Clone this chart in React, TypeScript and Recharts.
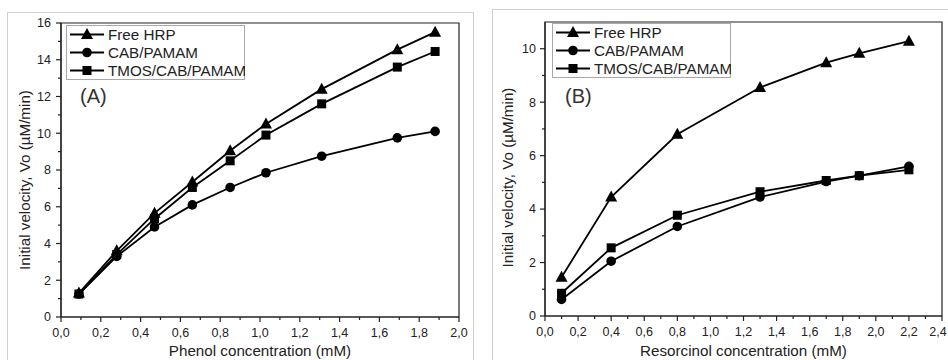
import { LineChart, Line, XAxis, YAxis, ReferenceArea, Legend } from 'recharts';

// Panel A: phenol
const phenolConc = [0.09, 0.28, 0.47, 0.66, 0.85, 1.03, 1.31, 1.69, 1.88];
const phenolFreeHrp = [1.3, 3.6, 5.65, 7.35, 9.05, 10.5, 12.4, 14.55, 15.5];
const phenolCab = [1.25, 3.3, 4.9, 6.1, 7.05, 7.85, 8.75, 9.75, 10.1];
const phenolTmos = [1.25, 3.4, 5.35, 7.05, 8.5, 9.9, 11.6, 13.6, 14.45];

// Panel B: resorcinol
const resorcinolConc = [0.1, 0.4, 0.8, 1.3, 1.7, 1.9, 2.2];
const resorcinolFreeHrp = [1.45, 4.45, 6.8, 8.55, 9.48, 9.83, 10.28];
const resorcinolCab = [0.62, 2.05, 3.35, 4.45, 5.03, 5.25, 5.6];
const resorcinolTmos = [0.85, 2.55, 3.77, 4.65, 5.07, 5.25, 5.47];

const seriesNames = ['Free HRP', 'CAB/PAMAM', 'TMOS/CAB/PAMAM'];

const phenolXTicks = [0, 0.1, 0.2, 0.3, 0.4, 0.5, 0.6, 0.7, 0.8, 0.9, 1.0, 1.1, 1.2, 1.3, 1.4, 1.5, 1.6, 1.7, 1.8, 1.9, 2.0];
const phenolYTicks = [0, 1, 2, 3, 4, 5, 6, 7, 8, 9, 10, 11, 12, 13, 14, 15, 16];
const resorcinolXTicks = [0, 0.1, 0.2, 0.3, 0.4, 0.5, 0.6, 0.7, 0.8, 0.9, 1.0, 1.1, 1.2, 1.3, 1.4, 1.5, 1.6, 1.7, 1.8, 1.9, 2.0, 2.1, 2.2, 2.3, 2.4];
const resorcinolYTicks = [0, 1, 2, 3, 4, 5, 6, 7, 8, 9, 10];

const FONT = '"Liberation Sans", Arial, sans-serif';
const AXIS = '#222';
const TEXT = '#222';

const toRows = (xs: number[], free: number[], cab: number[], tmos: number[]) =>
  xs.map((x, i) => ({ x, free: free[i], cab: cab[i], tmos: tmos[i] }));

const phenolData = toRows(phenolConc, phenolFreeHrp, phenolCab, phenolTmos);
const resorcinolData = toRows(resorcinolConc, resorcinolFreeHrp, resorcinolCab, resorcinolTmos);

function markerShape(kind: number, cx: number, cy: number, key?: string) {
  if (kind === 0) {
    return <polygon key={key} points={`${cx},${cy - 6.5} ${cx + 6},${cy + 4.5} ${cx - 6},${cy + 4.5}`} fill="#000" />;
  }
  if (kind === 1) {
    return <circle key={key} cx={cx} cy={cy} r={4.8} fill="#000" />;
  }
  return <rect key={key} x={cx - 4.5} y={cy - 4.5} width={9} height={9} fill="#000" />;
}

const dotFor = (kind: number) => (p: any) => markerShape(kind, p.cx, p.cy, `d-${kind}-${p.index}`);

function XTick(props: any) {
  const { x, y, payload, xMax } = props;
  const v: number = payload.value;
  const major = Math.round(v * 10) % 2 === 0;
  // the last label sits on the page edge; nudge it in so it stays readable
  const tx = v === xMax && xMax > 2 ? x - 4 : x;
  return (
    <g>
      <line x1={x} y1={y} x2={x} y2={y + (major ? 5 : 3)} stroke={AXIS} strokeWidth={1.2} />
      {major && (
        <text x={tx} y={y + 20} textAnchor="middle" fontSize={12.5} fill={TEXT} fontFamily={FONT}>
          {v.toFixed(1).replace('.', ',')}
        </text>
      )}
    </g>
  );
}

function YTick(props: any) {
  const { x, y, payload, gap } = props;
  const v: number = payload.value;
  const major = v % 2 === 0;
  return (
    <g>
      <line x1={x} y1={y} x2={x - (major ? 5 : 3)} y2={y} stroke={AXIS} strokeWidth={1.2} />
      {major && (
        <text x={x - gap} y={y + 4.4} textAnchor="end" fontSize={12.5} fill={TEXT} fontFamily={FONT}>
          {v}
        </text>
      )}
    </g>
  );
}

function LegendBox() {
  return (
    <svg width={179} height={55} style={{ display: 'block' }}>
      <rect x={0.5} y={0.5} width={178} height={54} fill="#fff" stroke="#a8a8a8" />
      {seriesNames.map((name, i) => {
        const cy = 9.5 + i * 18;
        return (
          <g key={name}>
            <line x1={4} y1={cy} x2={38} y2={cy} stroke="#000" strokeWidth={2} />
            {markerShape(i, 21, cy)}
            <text x={42} y={cy + 5.3} fontSize={15.2} fill={TEXT} fontFamily={FONT}>
              {name}
            </text>
          </g>
        );
      })}
    </svg>
  );
}

function yTitle(text: string, dx: number, dy: number) {
  return ({ viewBox }: any) => {
    const cx = viewBox.x + dx;
    const cy = viewBox.y + viewBox.height / 2 + dy;
    return (
      <text x={cx} y={cy} transform={`rotate(-90 ${cx} ${cy})`} textAnchor="middle" dominantBaseline="central"
        fontSize={15.2} fill={TEXT} fontFamily={FONT}>
        {text}
      </text>
    );
  };
}

function xTitle(text: string, baseline: number) {
  return ({ viewBox }: any) => (
    <text x={viewBox.x + viewBox.width / 2} y={baseline} textAnchor="middle" fontSize={15.2} fill={TEXT} fontFamily={FONT}>
      {text}
    </text>
  );
}

interface PanelProps {
  data: typeof phenolData;
  xMax: number;
  yMax: number;
  xTicks: number[];
  yTicks: number[];
  margin: { top: number; right: number; left: number; bottom: number };
  xLabel: string;
  yLabelDx: number;
  yLabelDy: number;
  yTickGap: number;
  legendPos: { left: number; top: number };
}

function Panel({ data, xMax, yMax, xTicks, yTicks, margin, xLabel, yLabelDx, yLabelDy, yTickGap, legendPos }: PanelProps) {
  return (
    <LineChart width={474} height={360} data={data} margin={margin}>
      <XAxis
        dataKey="x"
        type="number"
        domain={[0, xMax]}
        ticks={xTicks}
        interval={0}
        tickSize={0}
        tickMargin={0}
        tickLine={false}
        tick={<XTick xMax={xMax} />}
        height={30}
        axisLine={{ stroke: AXIS, strokeWidth: 1.2 }}
        label={{ content: xTitle(xLabel, 356) }}
      />
      <YAxis
        type="number"
        domain={[0, yMax]}
        ticks={yTicks}
        interval={0}
        tickSize={0}
        tickMargin={0}
        tickLine={false}
        tick={<YTick gap={yTickGap} />}
        width={50}
        axisLine={{ stroke: AXIS, strokeWidth: 1.2 }}
        label={{ content: yTitle('Initial velocity, Vo (µM/min)', yLabelDx, yLabelDy) }}
      />
      <ReferenceArea x1={0} x2={xMax} y1={0} y2={yMax} fill="none" stroke={AXIS} strokeWidth={1.2} ifOverflow="visible" />
      <Line dataKey="free" name={seriesNames[0]} type="linear" stroke="#000" strokeWidth={1.8} dot={dotFor(0)} activeDot={false} isAnimationActive={false} />
      <Line dataKey="cab" name={seriesNames[1]} type="linear" stroke="#000" strokeWidth={1.8} dot={dotFor(1)} activeDot={false} isAnimationActive={false} />
      <Line dataKey="tmos" name={seriesNames[2]} type="linear" stroke="#000" strokeWidth={1.8} dot={dotFor(2)} activeDot={false} isAnimationActive={false} />
      <Legend
        layout="vertical"
        align="center"
        verticalAlign="middle"
        content={<LegendBox />}
        wrapperStyle={{ left: legendPos.left, top: legendPos.top, width: 179, height: 55 }}
      />
    </LineChart>
  );
}

export default function App() {
  return (
    <div style={{ position: 'absolute', left: 0, top: 0, width: 948, height: 360, overflow: 'hidden', background: '#fff', fontFamily: FONT }}>
      <div style={{ position: 'absolute', left: 7, top: 12, width: 465, height: 360, border: '1px solid #d0d0d0' }} />
      <div style={{ position: 'absolute', left: 492, top: 9, width: 480, height: 360, border: '1px solid #d0d0d0' }} />
      <div style={{ position: 'absolute', left: 0, top: 0 }}>
        <Panel
          data={phenolData}
          xMax={2}
          yMax={16}
          xTicks={phenolXTicks}
          yTicks={phenolYTicks}
          margin={{ top: 23, right: 15, left: 11, bottom: 13 }}
          xLabel="Phenol concentration (mM)"
          yLabelDx={13}
          yLabelDy={10}
          yTickGap={10}
          legendPos={{ left: 66, top: 25 }}
        />
      </div>
      <div style={{ position: 'absolute', left: 474, top: 0 }}>
        <Panel
          data={resorcinolData}
          xMax={2.4}
          yMax={11}
          xTicks={resorcinolXTicks}
          yTicks={resorcinolYTicks}
          margin={{ top: 22, right: 6, left: 21, bottom: 14 }}
          xLabel="Resorcinol concentration (mM)"
          yLabelDx={12.5}
          yLabelDy={8.5}
          yTickGap={9}
          legendPos={{ left: 78, top: 23 }}
        />
      </div>
      <svg width={948} height={360} style={{ position: 'absolute', left: 0, top: 0, pointerEvents: 'none' }}>
        <text x={80} y={103} fontSize={20} fill="#333" fontFamily={FONT}>(A)</text>
        <text x={565} y={103} fontSize={20} fill="#333" fontFamily={FONT}>(B)</text>
      </svg>
    </div>
  );
}
